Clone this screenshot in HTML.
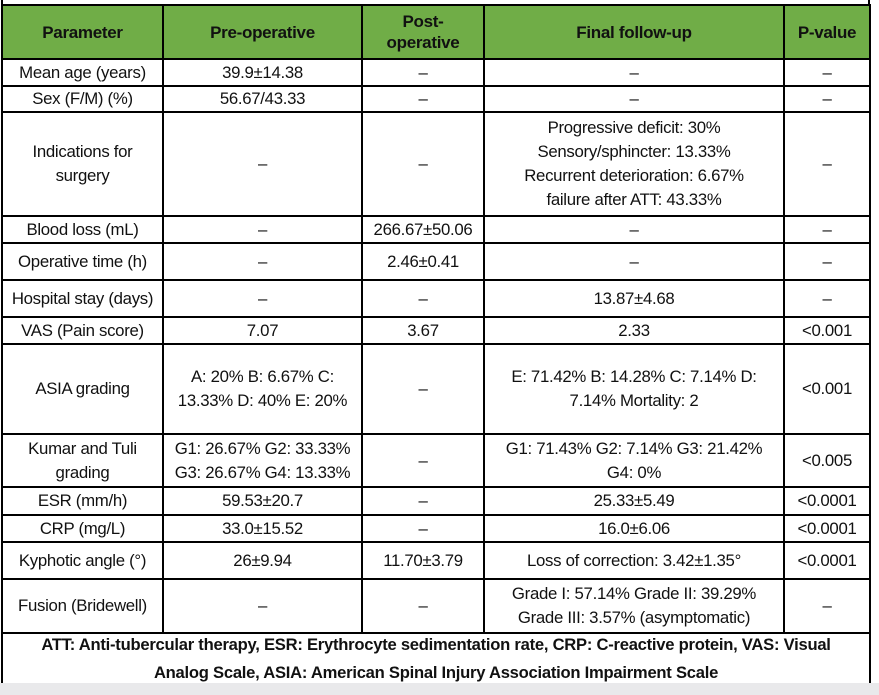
<!DOCTYPE html>
<html><head><style>
body{margin:0;width:879px;height:695px;background:#fff;position:relative;overflow:hidden;font-family:"Liberation Sans",sans-serif;}
table{position:absolute;left:1px;top:4px;border-collapse:collapse;table-layout:fixed;width:870px;}
td{border:2px solid #000;text-align:center;vertical-align:middle;font-size:16.8px;line-height:24px;padding:0;color:#111;letter-spacing:-0.3px;overflow:hidden;white-space:nowrap}
tr.h td{background:#70ad47;font-weight:bold;font-size:17px;line-height:21px}
.foot td{font-weight:bold;font-size:16.6px;line-height:28px;letter-spacing:-0.25px}
.bot{position:absolute;left:0;top:683px;width:879px;height:12px;background:#e9e9eb}
</style></head><body>
<div style="position:absolute;left:1px;top:0;width:2px;height:5px;background:#000"></div>
<div style="position:absolute;left:868px;top:0;width:2px;height:5px;background:#000"></div>
<table>
<colgroup><col style="width:161px"><col style="width:199px"><col style="width:122px"><col style="width:300px"><col style="width:86px"></colgroup>
<tr class="h" style="height:54px"><td>Parameter</td><td>Pre-operative</td><td>Post-<br>operative</td><td>Final follow-up</td><td>P-value</td></tr>
<tr style="height:27px"><td>Mean age (years)</td><td>39.9±14.38</td><td>–</td><td>–</td><td>–</td></tr>
<tr style="height:26px"><td>Sex (F/M) (%)</td><td>56.67/43.33</td><td>–</td><td>–</td><td>–</td></tr>
<tr style="height:104px"><td>Indications for<br>surgery</td><td>–</td><td>–</td><td>Progressive deficit: 30%<br>Sensory/sphincter: 13.33%<br>Recurrent deterioration: 6.67%<br>failure after ATT: 43.33%</td><td>–</td></tr>
<tr style="height:27px"><td>Blood loss (mL)</td><td>–</td><td>266.67±50.06</td><td>–</td><td>–</td></tr>
<tr style="height:37px"><td>Operative time (h)</td><td>–</td><td>2.46±0.41</td><td>–</td><td>–</td></tr>
<tr style="height:37px"><td>Hospital stay (days)</td><td>–</td><td>–</td><td>13.87±4.68</td><td>–</td></tr>
<tr style="height:27px"><td>VAS (Pain score)</td><td>7.07</td><td>3.67</td><td>2.33</td><td>&lt;0.001</td></tr>
<tr style="height:90px"><td>ASIA grading</td><td>A: 20% B: 6.67% C:<br>13.33% D: 40% E: 20%</td><td>–</td><td>E: 71.42% B: 14.28% C: 7.14% D:<br>7.14% Mortality: 2</td><td>&lt;0.001</td></tr>
<tr style="height:53px"><td>Kumar and Tuli<br>grading</td><td>G1: 26.67% G2: 33.33%<br>G3: 26.67% G4: 13.33%</td><td>–</td><td>G1: 71.43% G2: 7.14% G3: 21.42%<br>G4: 0%</td><td>&lt;0.005</td></tr>
<tr style="height:28px"><td>ESR (mm/h)</td><td>59.53±20.7</td><td>–</td><td>25.33±5.49</td><td>&lt;0.0001</td></tr>
<tr style="height:27px"><td>CRP (mg/L)</td><td>33.0±15.52</td><td>–</td><td>16.0±6.06</td><td>&lt;0.0001</td></tr>
<tr style="height:37px"><td>Kyphotic angle (°)</td><td>26±9.94</td><td>11.70±3.79</td><td>Loss of correction: 3.42±1.35°</td><td>&lt;0.0001</td></tr>
<tr style="height:54px"><td>Fusion (Bridewell)</td><td>–</td><td>–</td><td>Grade I: 57.14% Grade II: 39.29%<br>Grade III: 3.57% (asymptomatic)</td><td>–</td></tr>
<tr class="foot" style="height:50px"><td colspan="5" style="vertical-align:top"><div style="position:relative;top:-3px">ATT: Anti-tubercular therapy, ESR: Erythrocyte sedimentation rate, CRP: C-reactive protein, VAS: Visual<br>Analog Scale, ASIA: American Spinal Injury Association Impairment Scale</div></td></tr>
</table>
<div class="bot"></div>
</body></html>
